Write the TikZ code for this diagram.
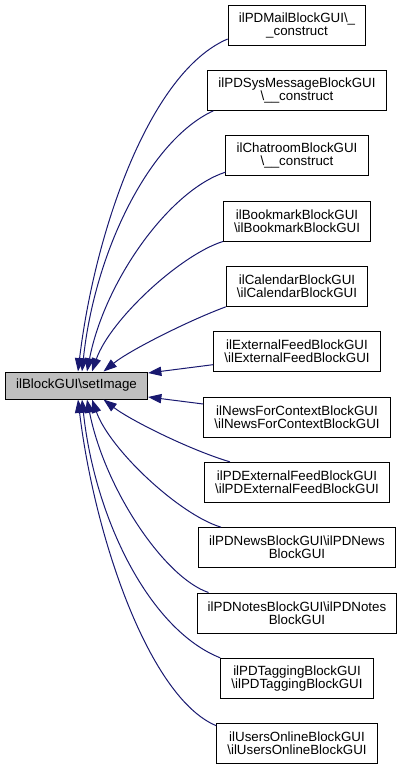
\documentclass[tikz,border=0pt]{standalone}
\usepackage{fontspec}
\setmainfont{Liberation Sans}
\usepackage{tikz}
\usetikzlibrary{arrows.meta,positioning,calc}
\usepackage{xcolor}
\definecolor{edgeblue}{HTML}{191970}
\definecolor{focusgray}{HTML}{BFBFBF}
\newcommand{\bsl}{\textbackslash}

\begin{document}
\begin{tikzpicture}[x=0.75pt, y=-0.75pt,
        node distance=18.25pt,
        cls/.style={draw=black, fill=white, line width=0.75pt, minimum height=30pt, inner xsep=8pt, inner ysep=0pt, align=center, font=\fontsize{10}{9.75}\selectfont},
        focus/.style={cls, fill=focusgray, minimum height=20.25pt},
        call/.style={draw=edgeblue, line width=0.75pt, -{Triangle[length=10pt,width=7pt]}}]
        \useasboundingbox (0,0) rectangle (404,771);
        % the method and its callers
        \node[focus] (main) at (76.5,385.5) {ilBlockGUI\bsl setImage};
        \node[cls] (mail) at (297,25) {ilPDMailBlockGUI\bsl\_ \\ \_construct};
        \node[cls, below=of mail] (sysmsg) {ilPDSysMessageBlockGUI \\ \bsl\_\_construct};
        \node[cls, below=of sysmsg] (chat) {ilChatroomBlockGUI \\ \bsl\_\_construct};
        \node[cls, below=of chat] (bookmark) {ilBookmarkBlockGUI \\ \bsl ilBookmarkBlockGUI};
        \node[cls, below=of bookmark] (calendar) {ilCalendarBlockGUI \\ \bsl ilCalendarBlockGUI};
        \node[cls, below=of calendar] (extfeed) {ilExternalFeedBlockGUI \\ \bsl ilExternalFeedBlockGUI};
        \node[cls, below=of extfeed] (newsctx) {ilNewsForContextBlockGUI \\ \bsl ilNewsForContextBlockGUI};
        \node[cls, below=of newsctx] (pdextfeed) {ilPDExternalFeedBlockGUI \\ \bsl ilPDExternalFeedBlockGUI};
        \node[cls, below=of pdextfeed] (pdnews) {ilPDNewsBlockGUI\bsl ilPDNews \\ BlockGUI};
        \node[cls, below=of pdnews] (pdnotes) {ilPDNotesBlockGUI\bsl ilPDNotes \\ BlockGUI};
        \node[cls, below=of pdnotes] (tagging) {ilPDTaggingBlockGUI \\ \bsl ilPDTaggingBlockGUI};
        \node[cls, below=of tagging] (online) {ilUsersOnlineBlockGUI \\ \bsl ilUsersOnlineBlockGUI};
        % calls, upper half
        \draw[call] ($(mail.west)+(0,14)$) .. controls (150,72) and (95,230) .. ($(main.north)+(1.5,0)$);
        \draw[call] ($(sysmsg.south west)+(6,0)$) .. controls (150,140) and (95,250) .. ($(main.north)+(5.5,0)$);
        \draw[call] ($(chat.south west)+(0,-4)$) .. controls (170,190) and (105,280) .. ($(main.north)+(10.5,0)$);
        \draw[call] (bookmark.south west) .. controls (180,255) and (110,320) .. ($(main.north)+(15.5,0)$);
        \draw[call] (calendar.south west) .. controls (190,320) and (130,350) .. ($(main.north)+(27,0)$);
        \draw[call] ($(extfeed.west)+(0,13)$) -- ($(main.east)+(0,-12.5)$);
        % calls, lower half
        \draw[call] ($(newsctx.west)+(0,-13)$) -- ($(main.east)+(0,11.5)$);
        \draw[call] ($(pdextfeed.north west)+(26,0)$) .. controls (190,450) and (130,420) .. ($(main.south)+(27,0)$);
        \draw[call] ($(pdnews.north west)+(23,0)$) .. controls (180,515) and (110,450) .. ($(main.south)+(15.5,0)$);
        \draw[call] ($(pdnotes.north west)+(12,0)$) .. controls (165,578) and (105,490) .. ($(main.south)+(10.5,0)$);
        \draw[call] (tagging.north west) .. controls (150,630) and (95,520) .. ($(main.south)+(5.5,0)$);
        \draw[call] ($(online.west)+(0,-18)$) .. controls (150,698) and (95,540) .. ($(main.south)+(1.5,0)$);
\end{tikzpicture}
\end{document}
